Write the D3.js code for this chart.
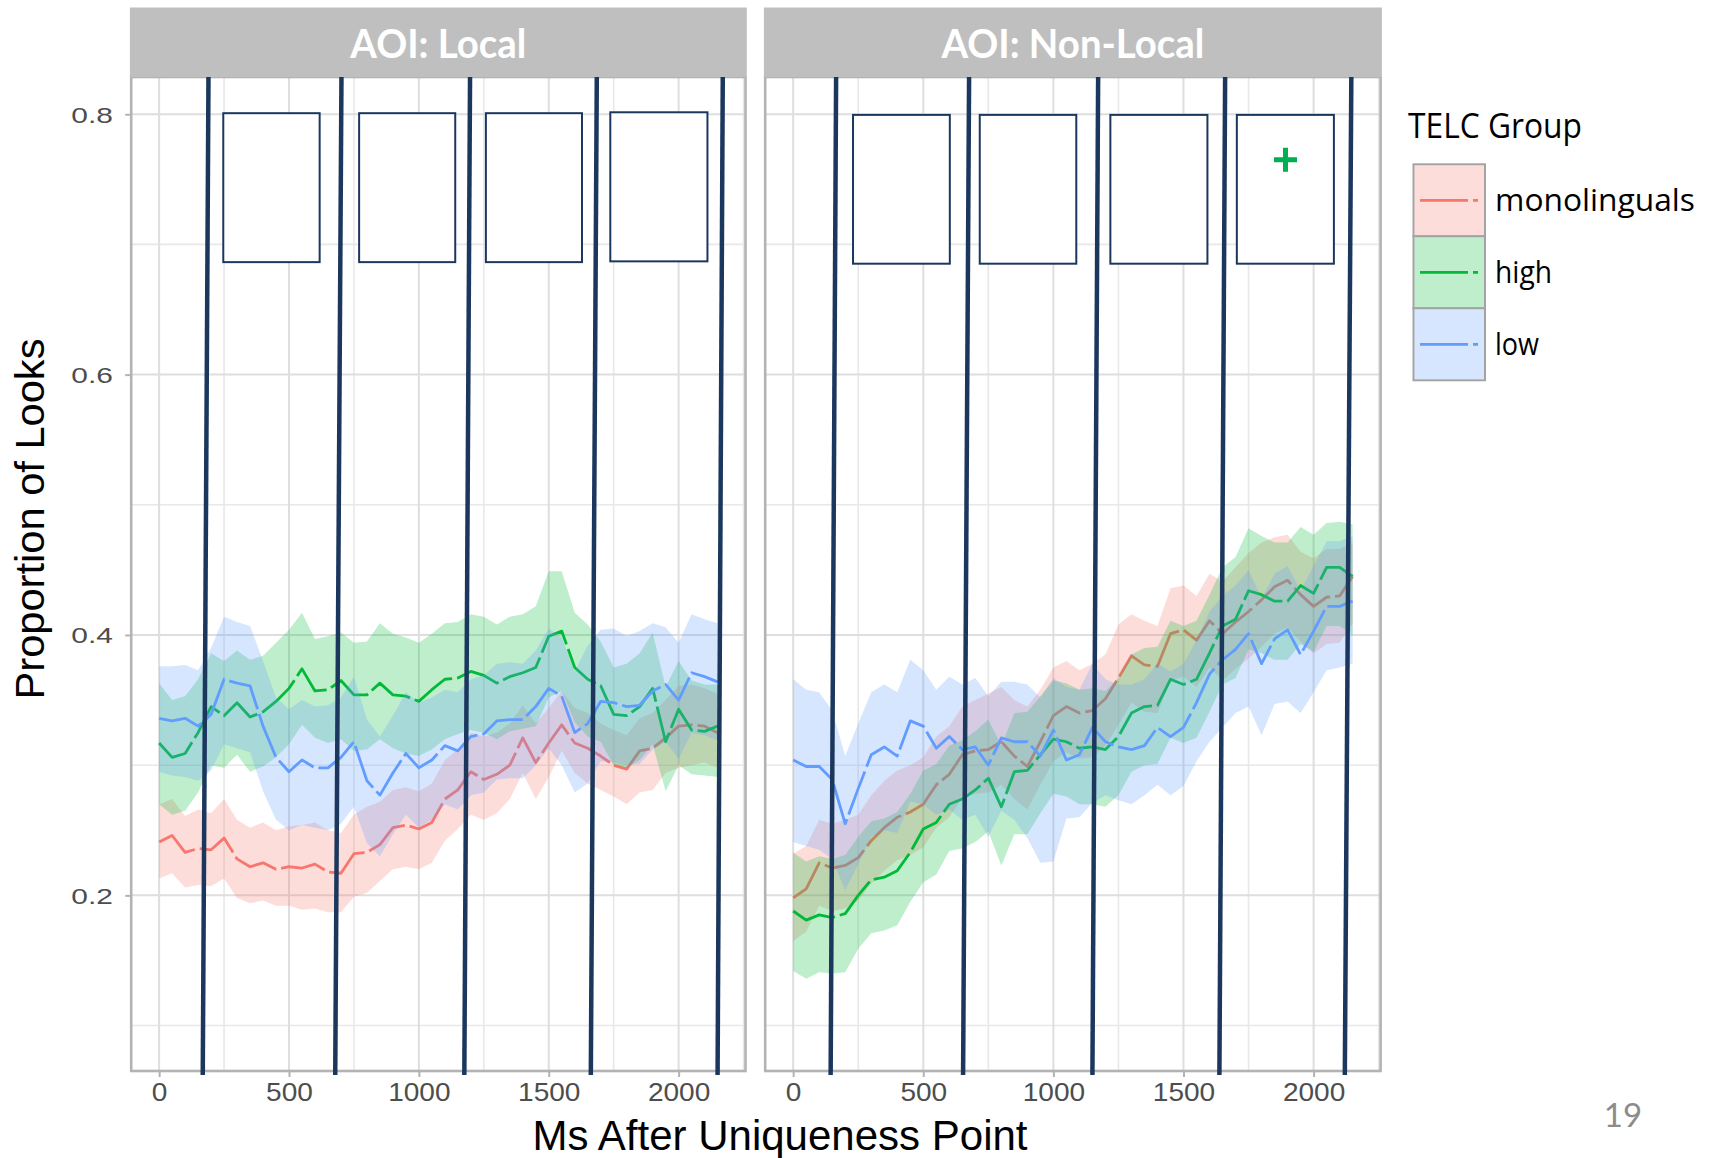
<!DOCTYPE html>
<html>
<head>
<meta charset="utf-8">
<script src="https://cdn.jsdelivr.net/npm/d3@7"></script>
<style>
  body { margin: 0; background: #ffffff; }
  svg { display: block; }
</style>
</head>
<body>
<svg id="chart" width="1714" height="1158"></svg>
<script>
// ---- data ----------------------------------------------------------------
const timeMs = [0,50,100,150,200,250,300,350,400,450,500,550,600,650,700,750,800,850,900,950,1000,1050,
                1100,1150,1200,1250,1300,1350,1400,1450,1500,1550,1600,1650,1700,1750,1800,1850,1900,1950,2000,2050,2100,2150];

const groups = ["monolinguals", "high", "low"];
const groupColors = ["#F8766D", "#00BA38", "#619CFF"];
const facetLabels = ["AOI: Local", "AOI: Non-Local"];
const legendTitle = "TELC Group";

const xTicks = [0, 500, 1000, 1500, 2000];
const xTickLabels = ["0", "500", "1000", "1500", "2000"];
const xMinor = [250, 750, 1250, 1750, 2250];
const yTicks = [0.2, 0.4, 0.6, 0.8];
const yTickLabels = ["0.2", "0.4", "0.6", "0.8"];
const yMinor = [0.1, 0.3, 0.5, 0.7];

// AOI: Local
const localMonoMean = [0.241,0.246,0.233,0.236,0.235,0.244,0.228,0.222,0.225,0.220,0.222,0.221,0.224,0.218,0.217,0.232,0.233,0.239,0.252,0.254,0.251,0.256,
                       0.274,0.281,0.295,0.289,0.293,0.300,0.321,0.302,0.317,0.331,0.317,0.313,0.307,0.300,0.297,0.311,0.313,0.321,0.330,0.331,0.330,0.325];
const localMonoHi   = [0.270,0.274,0.261,0.266,0.263,0.274,0.258,0.252,0.256,0.250,0.253,0.254,0.256,0.250,0.248,0.262,0.268,0.272,0.281,0.283,0.280,0.286,
                       0.304,0.312,0.325,0.322,0.325,0.332,0.346,0.332,0.344,0.357,0.344,0.340,0.332,0.327,0.323,0.336,0.340,0.350,0.361,0.362,0.359,0.355];
const localMonoLo   = [0.213,0.217,0.206,0.208,0.207,0.213,0.198,0.194,0.196,0.192,0.192,0.189,0.190,0.187,0.187,0.199,0.202,0.211,0.220,0.222,0.220,0.225,
                       0.242,0.251,0.262,0.258,0.263,0.274,0.294,0.274,0.291,0.311,0.294,0.286,0.281,0.276,0.270,0.279,0.281,0.294,0.298,0.300,0.302,0.298];
const localHighMean = [0.317,0.306,0.309,0.325,0.345,0.338,0.348,0.337,0.341,0.349,0.359,0.374,0.357,0.358,0.365,0.354,0.354,0.363,0.354,0.353,0.349,0.358,
                       0.366,0.367,0.372,0.369,0.363,0.368,0.371,0.375,0.399,0.403,0.375,0.366,0.361,0.339,0.338,0.345,0.359,0.318,0.343,0.327,0.326,0.330];
const localHighHi   = [0.363,0.350,0.353,0.366,0.386,0.380,0.388,0.381,0.384,0.394,0.404,0.417,0.397,0.399,0.402,0.394,0.395,0.409,0.401,0.398,0.394,0.401,
                       0.409,0.410,0.416,0.414,0.408,0.414,0.416,0.422,0.449,0.449,0.417,0.408,0.395,0.375,0.378,0.386,0.402,0.360,0.380,0.365,0.362,0.362];
const localHighLo   = [0.270,0.262,0.265,0.279,0.300,0.298,0.308,0.295,0.299,0.306,0.316,0.331,0.321,0.317,0.320,0.311,0.312,0.320,0.313,0.309,0.307,0.312,
                       0.320,0.324,0.327,0.325,0.320,0.326,0.328,0.330,0.352,0.357,0.333,0.322,0.318,0.300,0.298,0.304,0.316,0.280,0.300,0.293,0.292,0.291];
const localLowMean  = [0.336,0.334,0.336,0.330,0.339,0.366,0.363,0.361,0.330,0.306,0.295,0.304,0.298,0.298,0.306,0.318,0.288,0.277,0.294,0.309,0.298,0.304,
                       0.315,0.311,0.322,0.324,0.334,0.335,0.335,0.345,0.359,0.353,0.325,0.332,0.349,0.348,0.345,0.346,0.357,0.362,0.350,0.371,0.368,0.364];
const localLowHi    = [0.376,0.376,0.377,0.373,0.390,0.414,0.410,0.407,0.380,0.352,0.343,0.350,0.345,0.346,0.352,0.368,0.335,0.322,0.338,0.356,0.348,0.352,
                       0.358,0.356,0.366,0.369,0.378,0.379,0.378,0.388,0.405,0.398,0.372,0.392,0.404,0.405,0.399,0.403,0.409,0.406,0.394,0.416,0.412,0.409];
const localLowLo    = [0.295,0.292,0.291,0.288,0.296,0.316,0.313,0.310,0.280,0.258,0.250,0.254,0.252,0.250,0.255,0.268,0.240,0.230,0.247,0.262,0.252,0.258,
                       0.270,0.266,0.277,0.279,0.289,0.290,0.290,0.300,0.313,0.300,0.279,0.286,0.303,0.302,0.300,0.301,0.312,0.318,0.305,0.325,0.323,0.319];

// AOI: Non-Local
const nonLocalMonoMean = [0.198,0.205,0.225,0.221,0.223,0.229,0.242,0.252,0.260,0.264,0.270,0.285,0.293,0.308,0.311,0.312,0.318,0.307,0.299,0.318,0.338,0.345,
                          0.340,0.342,0.351,0.367,0.384,0.377,0.376,0.401,0.404,0.396,0.411,0.401,0.410,0.418,0.427,0.437,0.442,0.431,0.422,0.429,0.430,0.445];
const nonLocalMonoHi   = [0.232,0.238,0.258,0.255,0.258,0.262,0.277,0.288,0.296,0.300,0.306,0.322,0.330,0.345,0.350,0.355,0.360,0.350,0.345,0.358,0.375,0.380,
                          0.373,0.378,0.385,0.408,0.416,0.411,0.407,0.436,0.438,0.430,0.447,0.441,0.452,0.463,0.471,0.475,0.477,0.464,0.459,0.466,0.466,0.471];
const nonLocalMonoLo   = [0.165,0.172,0.192,0.188,0.190,0.196,0.209,0.219,0.227,0.231,0.237,0.252,0.260,0.275,0.278,0.279,0.285,0.274,0.266,0.285,0.303,0.310,
                          0.305,0.306,0.315,0.331,0.348,0.341,0.340,0.365,0.368,0.360,0.375,0.365,0.374,0.382,0.391,0.401,0.406,0.395,0.386,0.393,0.394,0.409];
const nonLocalHighMean = [0.188,0.181,0.185,0.183,0.186,0.200,0.212,0.214,0.219,0.233,0.251,0.256,0.270,0.274,0.281,0.290,0.268,0.295,0.296,0.308,0.320,0.318,
                          0.313,0.314,0.312,0.322,0.340,0.345,0.346,0.366,0.362,0.366,0.386,0.407,0.412,0.434,0.431,0.426,0.426,0.438,0.432,0.452,0.452,0.445];
const nonLocalHighHi   = [0.233,0.226,0.230,0.228,0.231,0.245,0.257,0.259,0.264,0.278,0.296,0.301,0.315,0.319,0.326,0.335,0.315,0.340,0.341,0.353,0.365,0.363,
                          0.358,0.359,0.357,0.367,0.385,0.390,0.391,0.411,0.407,0.411,0.431,0.452,0.460,0.482,0.476,0.471,0.471,0.483,0.477,0.486,0.487,0.485];
const nonLocalHighLo   = [0.142,0.136,0.141,0.140,0.141,0.159,0.171,0.173,0.177,0.195,0.210,0.216,0.234,0.236,0.241,0.249,0.223,0.247,0.247,0.263,0.278,0.276,
                          0.270,0.270,0.268,0.277,0.295,0.300,0.301,0.321,0.317,0.321,0.341,0.362,0.367,0.389,0.386,0.381,0.381,0.393,0.387,0.407,0.407,0.400];
const nonLocalLowMean  = [0.304,0.299,0.299,0.289,0.255,0.282,0.308,0.314,0.307,0.334,0.330,0.313,0.322,0.312,0.314,0.300,0.321,0.318,0.318,0.307,0.327,0.304,
                          0.308,0.329,0.318,0.314,0.312,0.315,0.329,0.322,0.329,0.348,0.370,0.381,0.389,0.401,0.378,0.397,0.404,0.385,0.403,0.422,0.422,0.426];
const nonLocalLowHi    = [0.366,0.358,0.356,0.342,0.307,0.332,0.356,0.362,0.356,0.381,0.373,0.358,0.368,0.362,0.367,0.353,0.364,0.364,0.362,0.352,0.367,0.360,
                          0.358,0.378,0.366,0.362,0.362,0.366,0.378,0.372,0.378,0.396,0.418,0.430,0.438,0.450,0.428,0.447,0.453,0.434,0.453,0.472,0.472,0.476];
const nonLocalLowLo    = [0.241,0.238,0.235,0.228,0.204,0.224,0.245,0.250,0.248,0.272,0.270,0.262,0.266,0.258,0.262,0.245,0.265,0.258,0.244,0.225,0.226,0.259,
                          0.260,0.271,0.277,0.273,0.270,0.277,0.285,0.277,0.284,0.303,0.318,0.329,0.340,0.345,0.323,0.347,0.349,0.340,0.356,0.373,0.375,0.378];

// Analysis windows (ms start, ms end, proportion top, proportion bottom)
const localWindows    = [[247,618,0.8008,0.6864],[770,1140,0.8008,0.6864],[1258,1628,0.8008,0.6864],[1737,2111,0.8015,0.6870]];
const nonLocalWindows = [[230,602,0.7995,0.6852],[717,1088,0.7995,0.6852],[1219,1592,0.7995,0.6852],[1705,2078,0.7995,0.6852]];
// Window boundary markers in ms (at panel top, at panel bottom)
const localBoundsTop       = [190, 702, 1197, 1685, 2170];
const localBoundsBottom    = [168, 678, 1175, 1662, 2150];
const nonLocalBoundsTop    = [165, 676, 1172, 1660, 2145];
const nonLocalBoundsBottom = [144, 653, 1150, 1638, 2120];
// Marked window: [ms, proportion]
const nonLocalMark = [1892, 0.765];

// ---- layout --------------------------------------------------------------
const svg = d3.select("#chart");
const panelTop = 77, panelBottom = 1071;
const stripTop = 7.5;
const xDomain = [-107.5, 2257.5];
const y = d3.scaleLinear().domain([0.0651, 0.8286]).range([panelBottom, panelTop]);

const panels = [
  { label: facetLabels[0], left: 131.2, right: 745.5,
    series: [[localMonoMean, localMonoLo, localMonoHi], [localHighMean, localHighLo, localHighHi], [localLowMean, localLowLo, localLowHi]],
    windows: localWindows, bTop: localBoundsTop, bBottom: localBoundsBottom, mark: null },
  { label: facetLabels[1], left: 765.2, right: 1380.6,
    series: [[nonLocalMonoMean, nonLocalMonoLo, nonLocalMonoHi], [nonLocalHighMean, nonLocalHighLo, nonLocalHighHi], [nonLocalLowMean, nonLocalLowLo, nonLocalLowHi]],
    windows: nonLocalWindows, bTop: nonLocalBoundsTop, bBottom: nonLocalBoundsBottom, mark: nonLocalMark }
];

const navy = "#1c375e";
const tickFont = "'Liberation Sans', Arial, sans-serif";

panels.forEach((p, pi) => {
  const x = d3.scaleLinear().domain(xDomain).range([p.left, p.right]);
  const g = svg.append("g");

  // grid
  g.selectAll(".gx-minor").data(xMinor).join("line")
    .attr("x1", d => x(d)).attr("x2", d => x(d)).attr("y1", panelTop).attr("y2", panelBottom)
    .attr("stroke", "#e8e8e8").attr("stroke-width", 1.6);
  g.selectAll(".gy-minor").data(yMinor).join("line")
    .attr("x1", p.left).attr("x2", p.right).attr("y1", d => y(d)).attr("y2", d => y(d))
    .attr("stroke", "#e8e8e8").attr("stroke-width", 1.6);
  g.selectAll(".gx-major").data(xTicks).join("line")
    .attr("x1", d => x(d)).attr("x2", d => x(d)).attr("y1", panelTop).attr("y2", panelBottom)
    .attr("stroke", "#dedede").attr("stroke-width", 2);
  g.selectAll(".gy-major").data(yTicks).join("line")
    .attr("x1", p.left).attr("x2", p.right).attr("y1", d => y(d)).attr("y2", d => y(d))
    .attr("stroke", "#dedede").attr("stroke-width", 2);

  // ribbons and mean lines, one group at a time
  p.series.forEach((s, gi) => {
    const rows = timeMs.map((t, k) => ({ t, m: s[0][k], lo: s[1][k], hi: s[2][k] }));
    const area = d3.area().x(d => x(d.t)).y0(d => y(d.lo)).y1(d => y(d.hi));
    const line = d3.line().x(d => x(d.t)).y(d => y(d.m));
    g.append("path").attr("d", area(rows))
      .attr("fill", groupColors[gi]).attr("fill-opacity", 0.25);
    g.append("path").attr("d", line(rows))
      .attr("fill", "none").attr("stroke", groupColors[gi]).attr("stroke-width", 2.8)
      .attr("stroke-dasharray", "46,5").attr("stroke-linejoin", "round");
  });

  // analysis windows
  g.selectAll(".win").data(p.windows).join("rect")
    .attr("x", d => x(d[0])).attr("width", d => x(d[1]) - x(d[0]))
    .attr("y", d => y(d[2])).attr("height", d => y(d[3]) - y(d[2]))
    .attr("fill", "#ffffff").attr("stroke", navy).attr("stroke-width", 2);

  if (p.mark) {
    const cx = x(p.mark[0]), cy = y(p.mark[1]);
    g.append("path")
      .attr("d", `M${cx - 11.5},${cy}H${cx + 11.5}M${cx},${cy - 12}V${cy + 12}`)
      .attr("stroke", "#00B050").attr("stroke-width", 5);
  }

  // panel border
  g.append("rect").attr("x", p.left).attr("y", panelTop)
    .attr("width", p.right - p.left).attr("height", panelBottom - panelTop)
    .attr("fill", "none").attr("stroke", "#b3b3b3").attr("stroke-width", 2.6);

  // window boundary markers
  p.bTop.forEach((bt, k) => {
    g.append("line")
      .attr("x1", x(bt)).attr("y1", panelTop)
      .attr("x2", x(p.bBottom[k])).attr("y2", panelBottom + 4)
      .attr("stroke", navy).attr("stroke-width", 4.5);
  });

  // facet strip
  g.append("rect").attr("x", p.left - 1.3).attr("y", stripTop)
    .attr("width", p.right - p.left + 2.6).attr("height", panelTop - stripTop)
    .attr("fill", "#bfbfbf");
  g.append("text").attr("x", (p.left + p.right) / 2).attr("y", 58)
    .attr("text-anchor", "middle").attr("fill", "#ffffff")
    .attr("font-family", "Lato, 'Open Sans', sans-serif").attr("font-weight", 700)
    .attr("font-size", 40)
    .attr("textLength", pi === 0 ? 176 : 263).attr("lengthAdjust", "spacingAndGlyphs")
    .text(p.label);

  // x axis
  const xAxis = d3.axisBottom(x).tickValues(xTicks).tickSize(6).tickPadding(6)
    .tickFormat((d, i) => xTickLabels[i]);
  const ax = g.append("g").attr("transform", `translate(0,${panelBottom})`).call(xAxis);
  ax.select(".domain").remove();
  ax.selectAll(".tick line").attr("stroke", "#b3b3b3").attr("stroke-width", 2);
  ax.selectAll(".tick text")
    .attr("font-family", tickFont).attr("font-size", 25.5).attr("fill", "#4d4d4d")
    .attr("transform", "scale(1.1,1)");

  // y axis on the first panel only
  if (pi === 0) {
    const yAxis = d3.axisLeft(y).tickValues(yTicks).tickSize(6).tickPadding(0)
      .tickFormat((d, i) => yTickLabels[i]);
    const ay = g.append("g").attr("transform", `translate(${p.left},0)`).call(yAxis);
    ay.select(".domain").remove();
    ay.selectAll(".tick line").attr("stroke", "#b3b3b3").attr("stroke-width", 2);
    ay.selectAll(".tick text")
      .attr("font-family", tickFont).attr("font-size", 22).attr("fill", "#4d4d4d")
      .attr("x", -13.5).attr("dy", "0.36em")
      .attr("transform", "scale(1.36,1)");
  }
});

// axis titles
svg.append("text").attr("x", 780).attr("y", 1150)
  .attr("text-anchor", "middle").attr("font-family", tickFont).attr("font-size", 42.5)
  .attr("fill", "#000000").attr("textLength", 495).attr("lengthAdjust", "spacingAndGlyphs")
  .text("Ms After Uniqueness Point");
svg.append("text").attr("transform", "translate(44,519) rotate(-90)")
  .attr("text-anchor", "middle").attr("font-family", tickFont).attr("font-size", 41.5)
  .attr("fill", "#000000").attr("textLength", 361).attr("lengthAdjust", "spacingAndGlyphs")
  .text("Proportion of Looks");

// legend
const legend = svg.append("g");
const legendFont = "'Open Sans', 'Noto Sans', sans-serif";
legend.append("text").attr("x", 1408).attr("y", 137.5)
  .attr("font-family", legendFont).attr("font-size", 34).attr("fill", "#000000")
  .attr("textLength", 174).attr("lengthAdjust", "spacingAndGlyphs")
  .text(legendTitle);
const keyTop = [164.3, 236.3, 308.3];
const keyLabelWidths = [200, 57, 44];
groups.forEach((name, i) => {
  const top = keyTop[i];
  legend.append("rect").attr("x", 1413.5).attr("y", top).attr("width", 71.5).attr("height", 72)
    .attr("fill", "#ffffff").attr("stroke", "#a3a3a3").attr("stroke-width", 2);
  legend.append("rect").attr("x", 1414.5).attr("y", top + 1).attr("width", 69.5).attr("height", 70)
    .attr("fill", groupColors[i]).attr("fill-opacity", 0.25);
  legend.append("line").attr("x1", 1420).attr("x2", 1478)
    .attr("y1", top + 36).attr("y2", top + 36)
    .attr("stroke", groupColors[i]).attr("stroke-width", 2.8).attr("stroke-dasharray", "48,5");
  legend.append("text").attr("x", 1495).attr("y", top + 46.5)
    .attr("font-family", legendFont).attr("font-size", 31).attr("fill", "#000000")
    .attr("textLength", keyLabelWidths[i]).attr("lengthAdjust", "spacingAndGlyphs")
    .text(name);
});

// slide number
svg.append("text").attr("x", 1623).attr("y", 1127).attr("text-anchor", "middle")
  .attr("font-family", "Lato, 'Open Sans', sans-serif").attr("font-size", 33).attr("fill", "#8c8c8c")
  .text("19");
</script>
</body>
</html>
